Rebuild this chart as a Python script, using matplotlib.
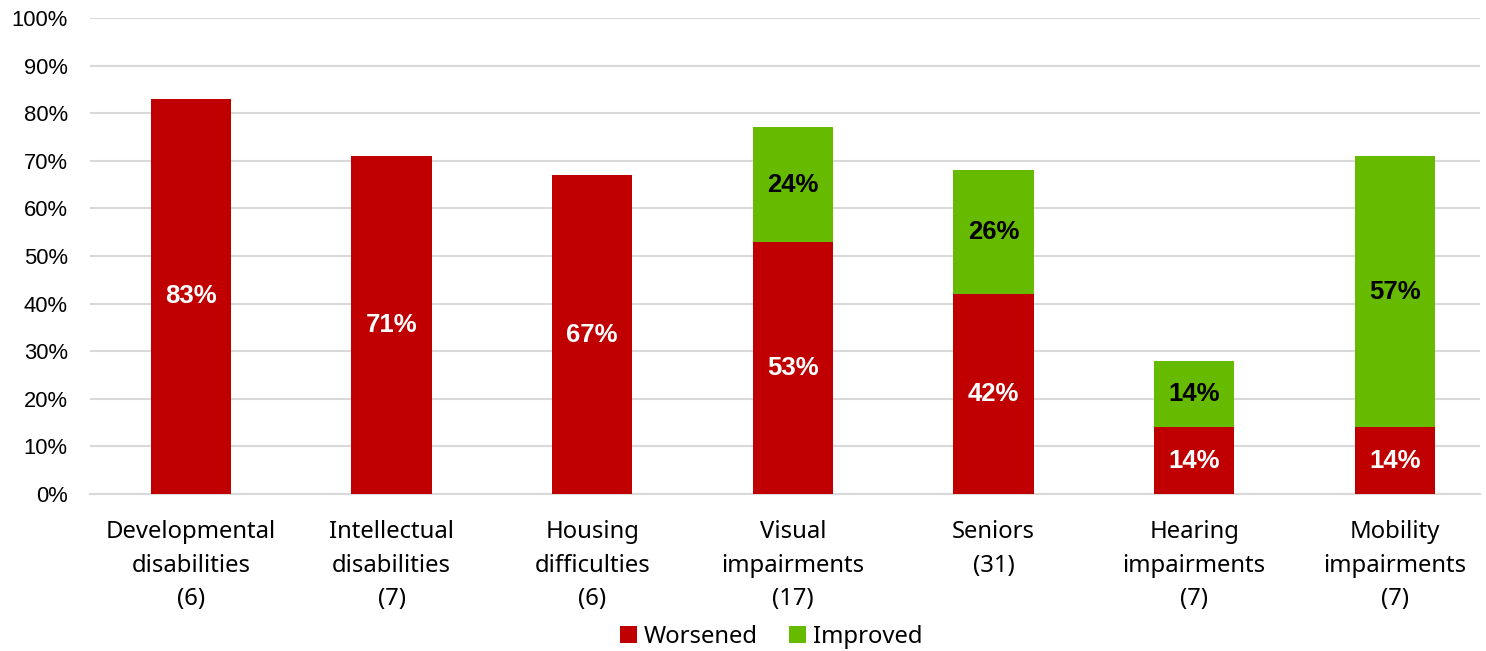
import matplotlib
matplotlib.use("Agg")
from matplotlib import pyplot as plt
import numpy as np

categories = ["Developmental\ndisabilities\n(6)", "Intellectual\ndisabilities\n(7)",
              "Housing\ndifficulties\n(6)", "Visual\nimpairments\n(17)",
              "Seniors\n(31)", "Hearing\nimpairments\n(7)", "Mobility\nimpairments\n(7)"]
worsened = [83, 71, 67, 53, 42, 14, 14]
improved = [0, 0, 0, 24, 26, 14, 57]
yticks = list(range(0, 101, 10))

red = "#C00000"
green = "#66BB00"

fig = plt.figure(figsize=(14.86, 6.51), dpi=100)
ax = fig.add_axes([0.0606, 0.2412, 0.9354, 0.7312])

x = np.arange(len(categories))
w = 0.40
ax.bar(x, worsened, w, color=red, label="Worsened", zorder=3)
ax.bar(x, improved, w, bottom=worsened, color=green, label="Improved", zorder=3)

for i in range(len(categories)):
    ax.text(x[i], worsened[i] / 2, f"{worsened[i]}%", ha="center", va="center",
            color="white", fontsize=18.5, fontweight="bold", family="Liberation Sans", zorder=4)
    if improved[i] > 0:
        ax.text(x[i], worsened[i] + improved[i] / 2, f"{improved[i]}%", ha="center", va="center",
                color="black", fontsize=18.5, fontweight="bold", family="Liberation Sans", zorder=4)

ax.set_xlim(-0.503, 6.425)
ax.set_ylim(0, 100)
ax.set_yticks(yticks)
ax.set_yticklabels([f"{t}%" for t in yticks], fontsize=15.8, family="Liberation Sans")
ax.set_xticks(x)
ax.set_xticklabels(categories, fontsize=17.2, family="Noto Sans", linespacing=1.53)
ax.tick_params(axis="both", length=0)
ax.tick_params(axis="x", pad=19)
ax.tick_params(axis="y", pad=16)
ax.grid(axis="y", color="#D9D9D9", linewidth=1.5, zorder=0)
for s in ["top", "right", "left"]:
    ax.spines[s].set_visible(False)
ax.spines["bottom"].set_color("#D9D9D9")
ax.spines["bottom"].set_linewidth(1.5)

fig.legend(loc="lower center", bbox_to_anchor=(0.519, -0.03), ncol=2, frameon=False,
           prop={"family": "Noto Sans", "size": 17.2}, handlelength=0.7, handleheight=0.7,
           handletextpad=0.3, columnspacing=1.3)

fig.savefig("out.png", dpi=100)
